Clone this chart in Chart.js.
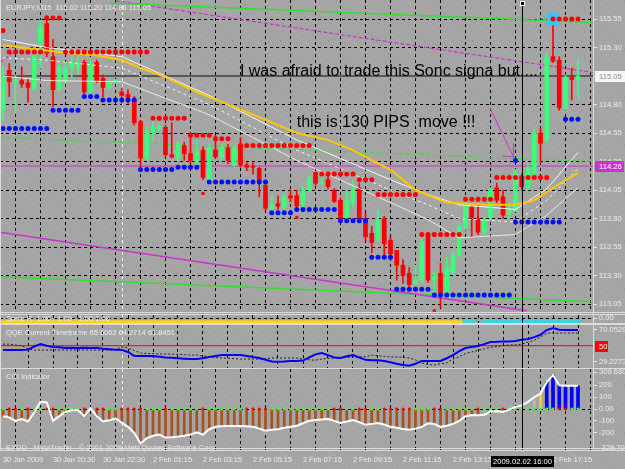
<!DOCTYPE html>
<html>
<head>
<meta charset="utf-8">
<title>EURJPY M15</title>
<script src="https://cdn.jsdelivr.net/npm/chart.js@4.4.1/dist/chart.umd.min.js"></script>
<style>
  html, body { margin: 0; padding: 0; }
  body { width: 625px; height: 469px; position: relative; overflow: hidden; background-color: #a3a3a3; }
  canvas { position: absolute; left: 0; }
  .rule { position: absolute; background: #dcdcdc; }
</style>
</head>
<body>
<canvas id="price" width="625" height="312" style="top:0px"></canvas>
<canvas id="sonic" width="625" height="8" style="top:315px"></canvas>
<canvas id="qqe" width="625" height="43" style="top:325px"></canvas>
<canvas id="cci" width="625" height="100" style="top:369px"></canvas>
<div class="rule" style="left:0;top:312px;width:625px;height:1px"></div>
<div class="rule" style="left:0;top:314px;width:625px;height:1px"></div>
<div class="rule" style="left:0;top:323px;width:625px;height:2px"></div>
<div class="rule" style="left:0;top:368px;width:625px;height:1px"></div>
<div class="rule" style="left:0;top:448px;width:625px;height:1px"></div>
<div class="rule" style="left:0;top:450px;width:625px;height:1px"></div>
<div class="rule" style="left:593px;top:0;width:1px;height:451px"></div>
<div class="rule" style="left:0;top:0;width:1px;height:451px"></div>
<script>
// EURJPY M15, one entry per bar: bar 0 = 30 Jan 18:30, bar 83 = 2 Feb 16:00, bar 92 = 2 Feb 18:15
const opens = [114.75,115.10,114.99,115.01,114.99,114.94,115.34,115.51,115.22,114.93,
  115.00,115.12,115.14,115.17,114.91,115.17,115.03,114.95,115.00,114.91,
  114.89,114.84,114.65,114.33,114.55,114.59,114.60,114.36,114.33,114.44,
  114.37,114.30,114.40,114.14,114.40,114.34,114.42,114.27,114.43,114.27,
  114.26,114.24,114.09,113.88,113.93,113.90,114.00,114.00,113.92,114.05,
  114.17,114.11,114.14,114.05,113.96,113.81,113.94,114.07,113.80,113.67,
  113.62,113.80,113.61,113.52,113.39,113.32,113.23,113.26,113.65,113.26,
  113.32,113.15,113.33,113.48,113.72,113.90,113.80,113.68,113.81,114.07,
  113.99,113.84,113.87,114.16,114.07,114.20,114.55,114.49,115.22,115.19,
  114.77,115.04,115.02];
const highs = [115.13,115.16,115.06,115.13,115.03,115.28,115.54,115.58,115.37,115.16,
  115.17,115.23,115.22,115.19,115.19,115.19,115.06,115.02,115.02,114.94,
  114.93,114.87,114.66,114.60,114.66,114.63,114.62,114.64,114.47,114.47,
  114.55,114.49,114.43,114.45,114.53,114.45,114.45,114.44,114.51,114.29,
  114.29,114.25,114.12,114.00,114.00,114.01,114.05,114.05,114.08,114.18,
  114.19,114.20,114.19,114.06,113.98,114.04,114.13,114.11,113.85,113.73,
  113.88,113.82,113.64,113.52,113.44,113.37,113.39,113.62,113.67,113.33,
  113.41,113.46,113.51,113.76,113.94,113.92,113.92,113.81,114.07,114.11,
  114.05,113.94,114.23,114.19,114.27,114.58,114.59,115.25,115.56,115.22,
  115.06,115.12,115.20];
const lows = [114.66,114.87,114.73,114.95,114.82,114.93,115.12,115.22,114.78,114.91,
  114.99,115.04,115.07,114.88,114.90,114.99,114.87,114.93,114.99,114.81,
  114.81,114.62,114.25,114.31,114.49,114.57,114.34,114.33,114.31,114.31,
  114.29,114.25,114.14,114.12,114.33,114.31,114.28,114.25,114.25,114.22,
  114.19,113.99,113.87,113.86,113.88,113.88,113.95,113.89,113.89,114.04,
  114.09,114.10,114.06,113.94,113.78,113.80,113.91,113.78,113.60,113.50,
  113.60,113.48,113.44,113.26,113.23,113.20,113.22,113.24,113.24,113.15,
  113.02,113.11,113.31,113.46,113.70,113.64,113.66,113.66,113.79,113.94,
  113.80,113.79,113.86,114.05,114.05,114.17,114.29,114.47,115.17,114.75,
  114.75,114.84,114.86];
const closes = [115.05,115.00,115.01,114.98,114.95,115.23,115.48,115.25,114.93,115.13,
  115.13,115.17,115.16,114.91,115.15,115.01,114.95,114.99,115.01,114.88,
  114.86,114.64,114.33,114.56,114.59,114.61,114.36,114.34,114.46,114.37,
  114.31,114.38,114.16,114.42,114.34,114.42,114.31,114.42,114.27,114.25,
  114.25,114.12,113.89,113.92,113.91,113.99,113.98,113.91,114.05,114.16,
  114.11,114.12,114.08,113.95,113.80,113.96,114.05,113.80,113.64,113.59,
  113.79,113.58,113.49,113.39,113.30,113.22,113.26,113.59,113.26,113.30,
  113.15,113.37,113.48,113.73,113.92,113.81,113.68,113.79,114.05,113.96,
  113.83,113.87,114.20,114.08,114.24,114.55,114.46,115.21,115.18,114.77,
  115.04,115.02,115.05];

// moving averages, read at turning points (bar, price)
const maBars = [0,6,9,15,19,22,26,31,37,41,47,52,56,59,62,66,71,77,82,85,88,92];
const maPrices = [115.32,115.28,115.26,115.23,115.19,115.12,115.04,114.91,114.78,114.69,114.55,
  114.49,114.40,114.31,114.23,114.05,113.94,113.92,113.92,113.96,114.07,114.20];
const dragonBars = [0,7,19,33,47,62,68,73,82,87,92];
const dragonHigh = [115.37,115.30,115.22,114.88,114.49,114.14,114.01,113.92,113.88,114.06,114.38];
const dragonMid = [115.21,115.19,115.12,114.80,114.40,114.05,113.92,113.80,113.77,113.96,114.24];
const dragonLow = [115.05,115.01,115.00,114.71,114.31,113.94,113.79,113.63,113.66,113.83,114.07];

// trailing stop dots: [first bar, last bar, price]
const redStops = [[0,0,115.45],[1,6,115.26],[7,9,115.56],[10,23,115.26],[24,29,114.68],[30,33,114.53],
  [34,36,114.50],[38,49,114.44],[50,56,114.19],[57,59,114.14],[60,66,114.01],[67,73,113.66],
  [74,78,113.97],[79,87,114.16],[88,92,115.55]];
const blueStops = [[0,7,114.59],[8,12,114.75],[13,15,114.87],[16,21,114.84],[22,27,114.23],[28,31,114.25],
  [33,42,114.12],[43,46,113.85],[47,53,113.88],[54,58,113.78],[59,62,113.46],[63,68,113.18],
  [69,81,113.13],[82,82,114.31],[82,89,113.77],[90,92,114.67]];
const signalMarks = [[32,114.02],[47,113.81],[69,112.99]];
const alertMark = [88, 115.55];

// drawn objects (bar, price)
const X_MIN = -0.48, X_MAX = 94.56;
const greenUpper = [[17,115.69],[X_MAX,115.52]];
const magentaUpper = [[18,115.71],[X_MAX,115.08]];
const magentaLeft = [[X_MIN,115.17],[2.5,115.29]];
const greenDashed = [[X_MIN,114.51],[X_MAX,114.30]];
const magentaLower = [[X_MIN,113.68],[83.8,112.99]];
const greenLower = [[X_MIN,113.29],[X_MAX,113.07]];
const arrowShaft = [[77.9,114.77],[81.7,114.34]];
const arrowHead = [[79.9,114.35],[81.7,114.34],[81.7,114.46]];
const bidLevel = 115.05;
const alertLevel = 114.26;
const notes = [
  { text: 'I was afraid to trade this Sonc signa but....', bar: 37.9, price: 115.05 },
  { text: 'this is 130 PIPS  move !!!', bar: 47.0, price: 114.60 }
];

// sub windows
const sonicSegments = [[X_MIN,73.5,'#ffd21a'],[73.5,75.5,'#33d6e6'],[76.6,92.5,'#33d6e6']];
const qqeFast = [44.5,44.5,44.5,44.5,45,49,52,50,48.5,48,
  47,47.5,47,47.5,47,47.5,46,45.5,45,44.5,
  42,37,36.9,37,36.9,36,35,34.5,34,33.5,
  33,33,34,35.5,37,38,38.1,38,38,37,
  35.5,34.3,32,30,29.5,29.8,30.5,30.5,31,35,
  39,40.7,38,35,34.3,36.5,38,35,32,31.5,
  31.5,30.5,29,27,25.5,24.5,27,30.5,30.5,30.5,
  30.5,34,38,43,47,48.5,49.6,52,54.7,55,
  55.5,55.5,56,57.5,58.6,61,64,70,72.6,70.5,
  70,70,70];
const qqeSlow = [52,52,51,50,46,44.5,44.5,44.5,44.5,44.5,
  44.5,44.5,44.5,44.5,44.5,44.5,44.5,44.5,44.5,48.4,
  47,44,40.7,40,40,39.5,39.4,39.4,39,38.5,
  38.1,38.1,37,36,35,34.3,34,33.5,33,33,
  33,33,33.5,34.3,34.3,34.3,34.3,34.3,33,32,
  31.5,33,34,34.3,34.5,35,35.5,35.6,36,38,
  37,36.5,35.6,35.6,35.5,34.3,32,28,26,25.5,
  27,28,33,36,40,42,44,46,48,49,
  50,51,51,52,54.7,57,61,66,66.2,66.2,
  66.2,66.2,66.2];
const cciValues = [-60,-70,-100,-85,-105,-30,60,55,-100,-60,
  -25,-10,-10,-60,5,-60,-105,-95,-80,-115,
  -150,-200,-290,-245,-225,-215,-240,-238,-232,-225,
  -215,-195,-215,-170,-150,-145,-142,-142,-142,-145,
  -150,-165,-182,-175,-170,-158,-150,-140,-120,-98,
  -92,-88,-83,-100,-117,-105,-92,-110,-133,-125,
  -118,-130,-150,-158,-168,-175,-165,-150,-120,-125,
  -150,-140,-125,-100,-60,-50,-52,-48,-20,-18,
  -25,-5,18,30,60,100,130,225,285,200,
  195,195,195];
const histGap = [77, 84];

// axes
const priceTicks = [115.55,115.30,115.05,114.80,114.55,114.30,114.05,113.80,113.55,113.30,113.05];
const qqeTicks = [70.0529, 29.2273];
const qqeTickLabels = ['70.0529', '29.2273'];
const cciTicks = [309.6808, 200, 100, 0, -100, -200, -328.701];
const cciTickLabels = ['309.6808', '200', '100', '0.00', '-100', '-200', '-328.701'];
const labelBars = [0,8,16,24,32,40,48,56,64,72,80,88];
const timeLabels = ['30 Jan 2009','30 Jan 20:30','30 Jan 22:30','2 Feb 01:15','2 Feb 03:15','2 Feb 05:15',
  '2 Feb 07:15','2 Feb 09:15','2 Feb 11:15','2 Feb 13:15','2 Feb 15:15','2 Feb 17:15'];
const daySeparators = [19];
const cursorBar = 83;
const cursorLabel = '2009.02.02 16:00';

const FONT = "'Liberation Sans', Arial, sans-serif";
const LABEL = '#ececec';
const BULL = '#3cff78', BEAR = '#ff0000';

// gray speckled window background like the terminal
(function () {
  const c = document.createElement('canvas');
  c.width = c.height = 48;
  const g = c.getContext('2d');
  g.fillStyle = '#a5a5a5';
  g.fillRect(0, 0, 48, 48);
  let s = 11;
  for (let i = 0; i < 220; i++) {
    s = (s * 9301 + 49297) % 233280;
    const px = s % 48;
    s = (s * 9301 + 49297) % 233280;
    const py = s % 48;
    g.fillStyle = i % 2 ? '#b8b8b8' : '#919191';
    g.fillRect(px, py, 1, 1);
  }
  document.body.style.backgroundImage = 'url(' + c.toDataURL() + ')';
})();

const gridBars = [];
for (let k = 0; k <= 92; k += 4) gridBars.push(k);
const barIndex = opens.map((_, k) => k);
const pts = (xs, ys) => xs.map((v, i) => ({ x: v, y: ys[i] }));
const pairPts = list => list.map(([a, b]) => ({ x: a, y: b }));
function stopPoints(segments) {
  const out = [];
  segments.forEach(([from, to, price]) => {
    for (let k = from; k <= to; k++) out.push({ x: k, y: price });
  });
  return out;
}

function timeAxis(withLabels) {
  return {
    type: 'linear', min: X_MIN, max: X_MAX, offset: false,
    afterBuildTicks: s => { s.ticks = gridBars.map(v => ({ value: v })); },
    grid: { color: c => (c.tick && c.tick.value === 0 ? 'rgba(0,0,0,0)' : '#000'), lineWidth: 1, drawTicks: false },
    border: { display: false, dash: [3, 3] },
    ticks: {
      display: withLabels, autoSkip: false, maxRotation: 0, minRotation: 0, align: 'start', padding: 6,
      color: LABEL, font: { family: FONT, size: 7.3 },
      callback: v => { const i = labelBars.indexOf(v); return i < 0 ? '' : timeLabels[i]; }
    },
    afterFit: s => { s.height = withLabels ? 19 : 0; s.paddingLeft = 0; s.paddingRight = 0; }
  };
}

function valueAxis(min, max, ticks, labels, gridColor) {
  return {
    type: 'linear', position: 'right', min: min, max: max,
    afterBuildTicks: s => { s.ticks = ticks.map(v => ({ value: v })); },
    grid: { color: gridColor, lineWidth: 1, drawTicks: true, tickLength: 3, tickColor: '#e6e6e6' },
    border: { display: false, dash: [3, 3] },
    ticks: { autoSkip: false, padding: 2, color: LABEL, font: { family: FONT, size: 7.6 }, callback: (v, i) => labels[i] },
    afterFit: s => { s.width = 31; s.paddingTop = 0; s.paddingBottom = 0; }
  };
}

function baseOptions(xAxis, yAxis) {
  return {
    responsive: false, animation: false, devicePixelRatio: 1,
    layout: { padding: 0, autoPadding: false },
    plugins: { legend: { display: false }, tooltip: { enabled: false } },
    elements: { point: { radius: 0 }, line: { tension: 0 } },
    scales: { x: xAxis, y: yAxis }
  };
}

function vLine(chart, bar, color, dash, top) {
  const { ctx, chartArea: a, scales: { x } } = chart;
  const px = Math.round(x.getPixelForValue(bar)) + 0.5;
  ctx.save();
  ctx.strokeStyle = color;
  ctx.lineWidth = 1;
  ctx.setLineDash(dash);
  ctx.beginPath();
  ctx.moveTo(px, top === undefined ? a.top : top);
  ctx.lineTo(px, a.bottom);
  ctx.stroke();
  ctx.restore();
}

function sideBox(ctx, left, cy, text, fill, color, w) {
  const y0 = Math.round(cy) - 5;
  ctx.fillStyle = fill;
  ctx.fillRect(left + 1, y0, w, 11);
  ctx.fillStyle = color;
  ctx.font = '7.6px ' + FONT;
  ctx.textAlign = 'left';
  ctx.textBaseline = 'middle';
  ctx.fillText(text, left + 5, y0 + 5.5);
}

function panelDecor(title, titleY, extra) {
  return {
    id: 'panelDecor',
    beforeDatasetsDraw(chart) {
      daySeparators.forEach(b => vLine(chart, b, '#f4f4f4', [3, 3]));
    },
    afterDatasetsDraw(chart) {
      const ctx = chart.ctx;
      vLine(chart, cursorBar, '#000', [], chart.canvas.id === 'price' ? 3 : undefined);
      ctx.save();
      ctx.font = '7.5px ' + FONT;
      ctx.fillStyle = LABEL;
      ctx.textAlign = 'left';
      ctx.textBaseline = 'middle';
      if (title) ctx.fillText(title, 6, titleY);
      if (extra) extra(chart, ctx);
      ctx.restore();
    }
  };
}

// price window
const candleColors = barIndex.map(k => (closes[k] >= opens[k] ? BULL : BEAR));
new Chart(document.getElementById('price'), {
  type: 'line',
  data: {
    datasets: [
      { data: stopPoints(redStops), showLine: false, pointRadius: 2.5, pointBackgroundColor: '#ff0000', pointBorderWidth: 0 },
      { data: stopPoints(blueStops), showLine: false, pointRadius: 2.5, pointBackgroundColor: '#0010ff', pointBorderWidth: 0 },
      { data: pairPts(signalMarks), showLine: false, pointRadius: 2.2, pointStyle: 'rect', pointBackgroundColor: '#ff0000', pointBorderWidth: 0 },
      { data: [{ x: alertMark[0], y: alertMark[1] }], showLine: false, pointRadius: 9, pointStyle: 'rect', pointBackgroundColor: '#38c4f4', pointBorderWidth: 0 },
      { data: pairPts(arrowShaft), borderColor: '#cc33cc', borderWidth: 1 },
      { data: pairPts(arrowHead), borderColor: '#cc33cc', borderWidth: 1 },
      { data: pts(maBars, maPrices), borderColor: '#ffc800', borderWidth: 2 },
      { data: pts(dragonBars, dragonHigh), borderColor: 'rgba(255,255,255,0.9)', borderWidth: 1 },
      { data: pts(dragonBars, dragonMid), borderColor: 'rgba(255,255,255,0.85)', borderWidth: 1, borderDash: [3, 3] },
      { data: pts(dragonBars, dragonLow), borderColor: 'rgba(240,240,240,0.9)', borderWidth: 1 },
      { type: 'bar', data: barIndex.map(k => ({ x: k, y: [opens[k], closes[k]] })), backgroundColor: candleColors, barThickness: 4, minBarLength: 1, grouped: false, borderWidth: 0 },
      { type: 'bar', data: barIndex.map(k => ({ x: k, y: [lows[k], highs[k]] })), backgroundColor: candleColors, barThickness: 1, grouped: false, borderWidth: 0 },
      { data: pairPts(greenUpper), borderColor: '#33dd33', borderWidth: 1.5 },
      { data: pairPts(magentaUpper), borderColor: '#cc33cc', borderWidth: 1.2, borderDash: [4, 2] },
      { data: pairPts(magentaLeft), borderColor: '#cc33cc', borderWidth: 1.2, borderDash: [4, 2] },
      { data: pairPts(greenDashed), borderColor: '#33dd33', borderWidth: 1, borderDash: [4, 3] },
      { data: pairPts(magentaLower), borderColor: '#cc33cc', borderWidth: 1.5 },
      { data: pairPts(greenLower), borderColor: '#33dd33', borderWidth: 1.5 },
      { data: [{ x: X_MIN, y: alertLevel }, { x: X_MAX, y: alertLevel }], borderColor: '#cc33cc', borderWidth: 1 },
      { data: [{ x: X_MIN, y: bidLevel }, { x: X_MAX, y: bidLevel }], borderColor: '#585858', borderWidth: 2 }
    ]
  },
  options: baseOptions(timeAxis(false), valueAxis(112.98, 115.717, priceTicks, priceTicks.map(v => v.toFixed(2)), '#000')),
  plugins: [panelDecor('EURJPY,M15  115.02 115.20 114.86 115.05', 8, (chart, ctx) => {
    const { chartArea: a, scales: { x, y } } = chart;
    const cx = Math.round(x.getPixelForValue(cursorBar));
    ctx.fillStyle = '#ffffff';
    ctx.fillRect(cx - 2, 1, 5, 5);
    ctx.fillStyle = '#000';
    ctx.fillRect(cx - 1, 2, 3, 3);
    ctx.font = '16px ' + FONT;
    ctx.textBaseline = 'alphabetic';
    notes.forEach(n => ctx.fillText(n.text, x.getPixelForValue(n.bar), y.getPixelForValue(n.price)));
    sideBox(ctx, a.right, y.getPixelForValue(bidLevel), bidLevel.toFixed(2), '#f6f6f6', '#8a8a8a', 31);
    sideBox(ctx, a.right, y.getPixelForValue(alertLevel), alertLevel.toFixed(2), '#cc33cc', '#ffffff', 29);
  })]
});

// signal strip
new Chart(document.getElementById('sonic'), {
  type: 'line',
  data: {
    datasets: sonicSegments.map(([from, to, color]) => ({
      data: [{ x: from, y: 0.16 }, { x: to, y: 0.16 }], borderColor: color, borderWidth: 3
    }))
  },
  options: baseOptions(timeAxis(false), valueAxis(0, 1, [0.625], ['0.00'], '#000')),
  plugins: [panelDecor('Sonic R. 1.00 / 1.00 - 1.00 1.00', 4)]
});

// QQE window
new Chart(document.getElementById('qqe'), {
  type: 'line',
  data: {
    datasets: [
      { data: pts(barIndex, qqeFast), borderColor: '#0000ff', borderWidth: 2 },
      { data: pts(barIndex, qqeSlow), borderColor: '#202020', borderWidth: 1, borderDash: [2, 2] },
      { data: [{ x: X_MIN, y: 50 }, { x: X_MAX, y: 50 }], borderColor: '#ff0000', borderWidth: 1 }
    ]
  },
  options: baseOptions(timeAxis(false), valueAxis(21.57, 76.43, qqeTicks, qqeTickLabels, 'rgba(0,0,0,0)')),
  plugins: [panelDecor('QQE Current Timeframe 65.6062 64.2714 61.8451', 8, (chart, ctx) => {
    const { chartArea: a, scales: { y } } = chart;
    sideBox(ctx, a.right, y.getPixelForValue(50), '50', '#ff0000', '#ffffff', 13);
  })]
});

// CCI window
const histColor = k => (k >= 87 ? '#0000ff' : k === 86 ? '#ffd000' : k === 85 ? '#b8b8b8' : '#a8501e');
const histBars = barIndex.filter(k => (k < histGap[0] && cciValues[k] < 0) || k > histGap[1]);
new Chart(document.getElementById('cci'), {
  type: 'line',
  data: {
    datasets: [
      { data: pts(barIndex, cciValues), borderColor: '#ffffff', borderWidth: 2 },
      { data: barIndex.map(k => ({ x: k, y: 0 })), showLine: false, pointRadius: 1.4, pointBorderWidth: 0,
        pointBackgroundColor: barIndex.map(k => (k > 0 && cciValues[k] < cciValues[k - 1] ? '#ff0000' : '#33ff33')) },
      { type: 'bar', data: histBars.filter(k => k >= 87).map(k => ({ x: k, y: cciValues[k] })), backgroundColor: '#0000ff', barThickness: 3, grouped: false, borderWidth: 0 },
      { type: 'bar', data: histBars.filter(k => k < 87).map(k => ({ x: k, y: cciValues[k] })), backgroundColor: histBars.filter(k => k < 87).map(histColor), barThickness: 2, grouped: false, borderWidth: 0 }
    ]
  },
  options: baseOptions(timeAxis(true), valueAxis(-344.4, 336, cciTicks, cciTickLabels, c => (c.tick && c.tick.value === 0 ? '#000' : 'rgba(0,0,0,0)'))),
  plugins: [panelDecor('CCI Indicator', 8, (chart, ctx) => {
    const { scales: { x } } = chart;
    ctx.fillStyle = 'rgba(236,236,236,0.85)';
    ctx.fillText('EXDD - MetaTrader - \u00a9 2001-2008 MetaQuotes Software Corp.', 6, 79);
    const cx = Math.round(x.getPixelForValue(cursorBar));
    ctx.fillStyle = '#000';
    ctx.fillRect(cx - 31, 87, 63, 11);
    ctx.fillStyle = '#ffffff';
    ctx.textAlign = 'center';
    ctx.font = '7.6px ' + FONT;
    ctx.fillText(cursorLabel, cx + 0.5, 93);
  })]
});
</script>
</body>
</html>
